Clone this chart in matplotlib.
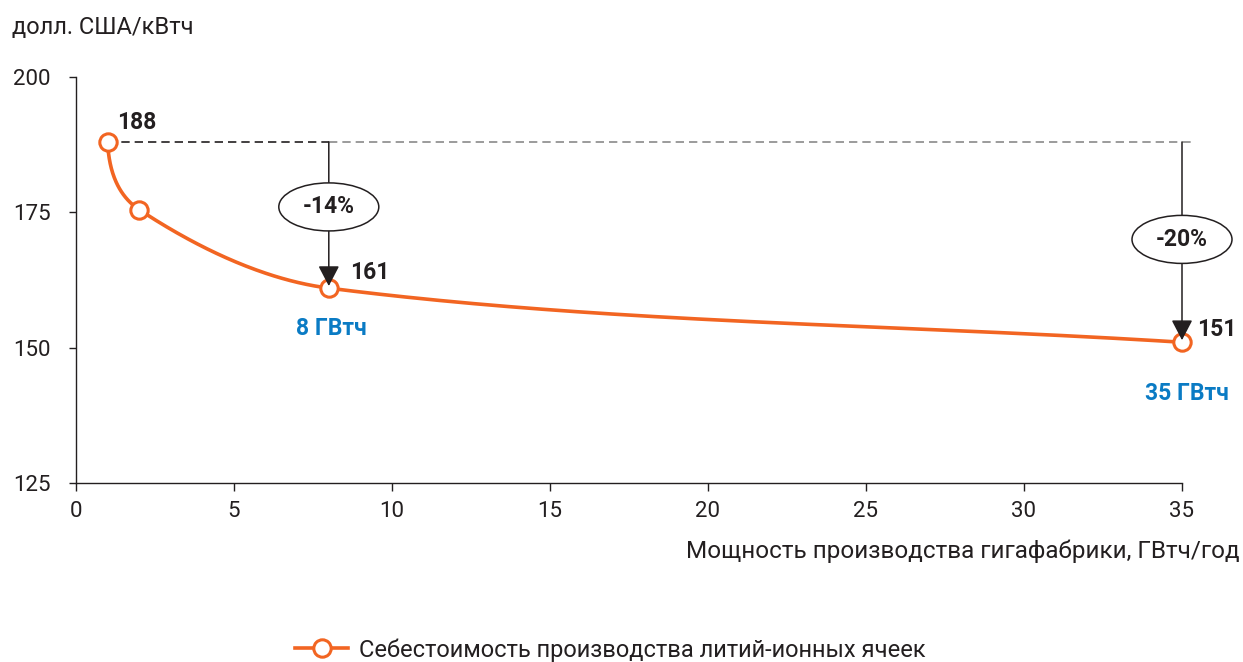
import numpy as np
import matplotlib
matplotlib.use("Agg")
import matplotlib.pyplot as plt
from matplotlib.patches import Ellipse

plt.rcParams['font.family'] = ['Roboto', 'DejaVu Sans']

# capacity of the gigafactory (GWh/year) and cell cost (USD/kWh)
capacity = [1, 2, 8, 35]
cost = [188, 175.5, 161, 151]
value_labels = ["188", None, "161", "151"]
capacity_labels = [None, None, "8 ГВтч", "35 ГВтч"]
drops = ["-14%", "-20%"]  # at 8 and 35 GWh
drop_idx = [2, 3]

x_ticks = [0, 5, 10, 15, 20, 25, 30, 35]
y_ticks = [125, 150, 175, 200]

orange = "#F26522"
blue = "#0A7BC4"
dark = "#231F20"


def smooth_curve(ax, xs, ys, n=100):
    # chord-length hermite spline in screen space
    pts = ax.transData.transform(np.column_stack([xs, ys]))
    d = np.linalg.norm(np.diff(pts, axis=0), axis=1)
    m = np.zeros_like(pts)
    for i in range(1, len(pts) - 1):
        m[i] = (pts[i + 1] - pts[i - 1]) / (d[i - 1] + d[i])
    m[0] = 2 * (pts[1] - pts[0]) / d[0] - m[1]
    m[-1] = (pts[-1] - pts[-2]) / d[-1]
    parts = []
    for i in range(len(pts) - 1):
        p1, p2 = pts[i], pts[i + 1]
        c1 = p1 + m[i] * d[i] / 3
        c2 = p2 - m[i + 1] * d[i] / 3
        t = np.linspace(0, 1, n)[:, None]
        seg = (1 - t) ** 3 * p1 + 3 * (1 - t) ** 2 * t * c1 + 3 * (1 - t) * t ** 2 * c2 + t ** 3 * p2
        parts.append(seg if i == 0 else seg[1:])
    return ax.transData.inverted().transform(np.vstack(parts))


fig = plt.figure(figsize=(12.43, 6.62), dpi=100)
ax = fig.add_axes([76 / 1243, 1 - 483 / 662, 1106 / 1243, 406 / 662])
ax.set_xlim(0, 35)
ax.set_ylim(125, 200)
ax.set_xticks(x_ticks)
ax.set_yticks(y_ticks)
for s in ["top", "right"]:
    ax.spines[s].set_visible(False)
for s in ["left", "bottom"]:
    ax.spines[s].set_color(dark)
    ax.spines[s].set_linewidth(1.0)
ax.tick_params(axis="y", length=5, width=1, color=dark, pad=13, labelsize=16, labelcolor=dark)
ax.tick_params(axis="x", length=6, width=1, color=dark, pad=7, labelsize=16, labelcolor=dark)

# dashed reference level at the starting cost
ax.plot([capacity[0], capacity[2]], [cost[0], cost[0]], ls=(0, (5, 3)), color=dark, lw=1.2, zorder=2)
ax.plot([capacity[2], capacity[-1] + 0.3], [cost[0], cost[0]], ls=(0, (5, 3)), color="#8a8a8a", lw=1.2,
        zorder=2, clip_on=False)

curve = smooth_curve(ax, capacity, cost)
ax.plot(curve[:, 0], curve[:, 1], color=orange, lw=2.6, zorder=3, solid_capstyle="round", clip_on=False)
ax.plot(capacity, cost, ls="none", marker="o", ms=12.5, mfc="white", mec=orange, mew=2.2, zorder=4,
        clip_on=False)

# drop arrows with the percentage in an ellipse
ell_y = [176, 170]
for k, i in enumerate(drop_idx):
    ax.annotate("", xy=(capacity[i], cost[i]), xytext=(capacity[i], cost[0]),
                arrowprops=dict(arrowstyle="-|>,head_length=1.25,head_width=0.65",
                                color=dark, lw=1.1, shrinkA=0, shrinkB=1.5),
                zorder=5, annotation_clip=False)
    ax.add_patch(Ellipse((capacity[i], ell_y[k]), width=100 / 31.6, height=48 / 5.41,
                         facecolor="white", edgecolor=dark, lw=1.1, zorder=6, clip_on=False))
    ax.text(capacity[i], ell_y[k], drops[k], ha="center", va="center", fontsize=16.5,
            fontweight="bold", color=dark, zorder=7)

value_offsets = [(6.5, 13.7), None, (15.6, 11.2), (10.6, 9.4)]
for i, lab in enumerate(value_labels):
    if lab:
        ax.annotate(lab, xy=(capacity[i], cost[i]), xytext=value_offsets[i], textcoords="offset points",
                    ha="left", va="center", fontsize=16.5, fontweight="bold", color=dark, zorder=8,
                    annotation_clip=False)

cap_offsets = [None, None, (2, -29), (3.4, -36.7)]
for i, lab in enumerate(capacity_labels):
    if lab:
        ax.annotate(lab, xy=(capacity[i], cost[i]), xytext=cap_offsets[i], textcoords="offset points",
                    ha="center", va="center", fontsize=16.5, fontweight="bold", color=blue, zorder=8,
                    annotation_clip=False)

fig.text(12 / 1243, 1 - 28 / 662, "долл. США/кВтч", ha="left", va="center", fontsize=17, color=dark)
fig.text(1240 / 1243, 1 - 551 / 662, "Мощность производства гигафабрики, ГВтч/год",
         ha="right", va="center", fontsize=17.5, color=dark)

handle = plt.Line2D([], [], color=orange, lw=2.6, marker="o", ms=12.5, mfc="white", mec=orange, mew=2.2)
fig.legend([handle], ["Себестоимость производства литий-ионных ячеек"], loc="center",
           bbox_to_anchor=(0.491, 1 - 650 / 662), frameon=False, fontsize=17, handlelength=2.25,
           handletextpad=0.45, labelcolor=dark)

fig.savefig("out.png", dpi=100)
